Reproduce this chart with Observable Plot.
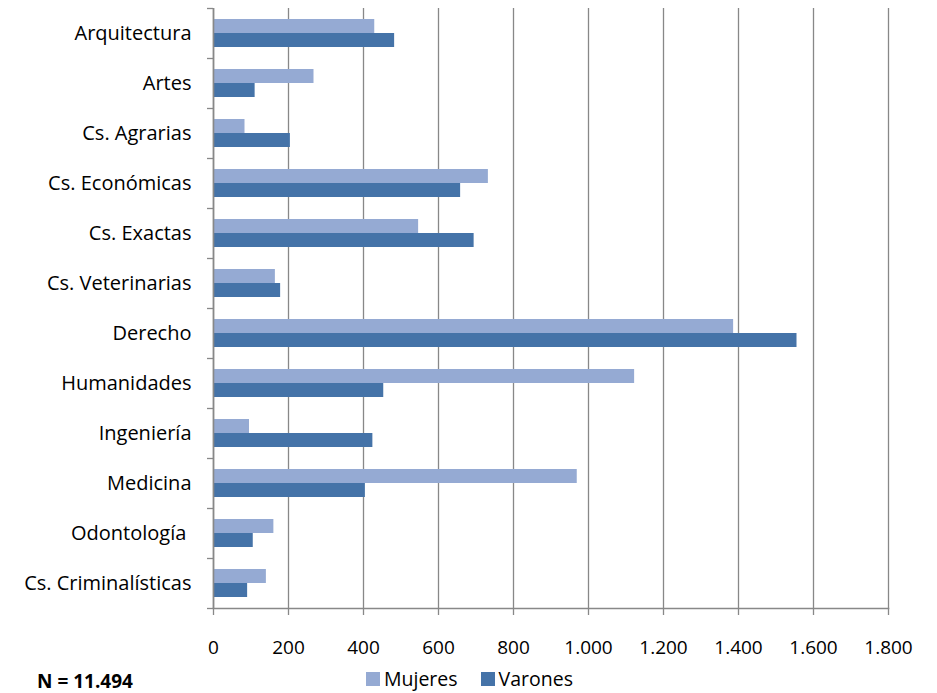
<!DOCTYPE html>
<html><head><meta charset="utf-8">
<script src="https://cdn.jsdelivr.net/npm/d3@7"></script>
<script src="https://cdn.jsdelivr.net/npm/@observablehq/plot@0.6"></script>
<style>
body{margin:0;background:#fff;font-family:"Open Sans",sans-serif;color:#000;}
#wrap{position:relative;width:937px;height:693px;overflow:hidden;}
#legend{position:absolute;top:667px;left:366px;display:flex;align-items:center;font-size:19.5px;line-height:24px;}
#legend .item{display:flex;align-items:center;margin-right:23px;}
#legend .sw{width:14px;height:14px;margin-right:4px;}
#n{position:absolute;top:672px;left:37px;font-weight:bold;font-size:19px;line-height:1;}
</style></head><body>
<div id="wrap"><div id="chart"></div><div id="legend"></div><div id="n">N = 11.494</div></div>
<script>
const categories = ["Arquitectura","Artes","Cs. Agrarias","Cs. Económicas","Cs. Exactas","Cs. Veterinarias","Derecho","Humanidades","Ingeniería","Medicina","Odontología ","Cs. Criminalísticas"];
const mujeres = [430, 268, 84, 733, 547, 165, 1387, 1123, 96, 970, 161, 141];
const varones = [483, 111, 205, 659, 695, 179, 1556, 454, 425, 405, 106, 91];
const series = ["Mujeres","Varones"];
const colors = ["#95aad3","#4573a8"];
const xTicks = [0,200,400,600,800,1000,1200,1400,1600,1800];

const rows = [];
categories.forEach((c,i)=>{
  rows.push({cat:c, serie:series[0], value:mujeres[i]});
  rows.push({cat:c, serie:series[1], value:varones[i]});
});
const es = d3.formatLocale({decimal:",", thousands:".", grouping:[3], currency:["","€"]});
const fmt = es.format(",d");
const gray = "#888";

const chart = Plot.plot({
  width: 937, height: 663,
  marginLeft: 213, marginRight: 49, marginTop: 8, marginBottom: 55,
  style: {fontFamily: "Open Sans, sans-serif", color: "#000", background: "#fff"},
  x: {domain: [0,1800]},
  y: {domain: categories, padding: 0},
  marks: [
    Plot.gridX(xTicks, {stroke: gray, strokeOpacity: 1, strokeWidth: 1.3}),
    Plot.barX(rows.filter(d=>d.serie===series[0]), {x: "value", y: "cat", fill: colors[0], insetTop: 11, insetBottom: 25}),
    Plot.barX(rows.filter(d=>d.serie===series[1]), {x: "value", y: "cat", fill: colors[1], insetTop: 25, insetBottom: 11}),
    Plot.ruleX([0], {stroke: gray, strokeWidth: 1.6}),
    Plot.frame({anchor: "bottom", stroke: gray, strokeWidth: 1.6}),
    Plot.axisX({ticks: xTicks, tickFormat: fmt, tickSize: 7, tickPadding: 25, fontSize: 19, stroke: gray, strokeWidth: 1.3, label: null}),
    Plot.axisY({tickSize: 0, tickPadding: 22, fontSize: 20, label: null}),
    Plot.axisY({tickSize: 6, text: null, dy: -25, stroke: gray, strokeWidth: 1.3, label: null}),
    Plot.axisY({ticks: [categories[categories.length-1]], tickSize: 6, text: null, dy: 25, stroke: gray, strokeWidth: 1.3, label: null})
  ]
});
document.getElementById("chart").appendChild(chart);

const leg = document.getElementById("legend");
series.forEach((s,i)=>{
  const it = document.createElement("div"); it.className="item";
  const sw = document.createElement("div"); sw.className="sw"; sw.style.background=colors[i];
  const tx = document.createElement("span"); tx.textContent=s;
  it.appendChild(sw); it.appendChild(tx); leg.appendChild(it);
});
</script>
</body></html>
